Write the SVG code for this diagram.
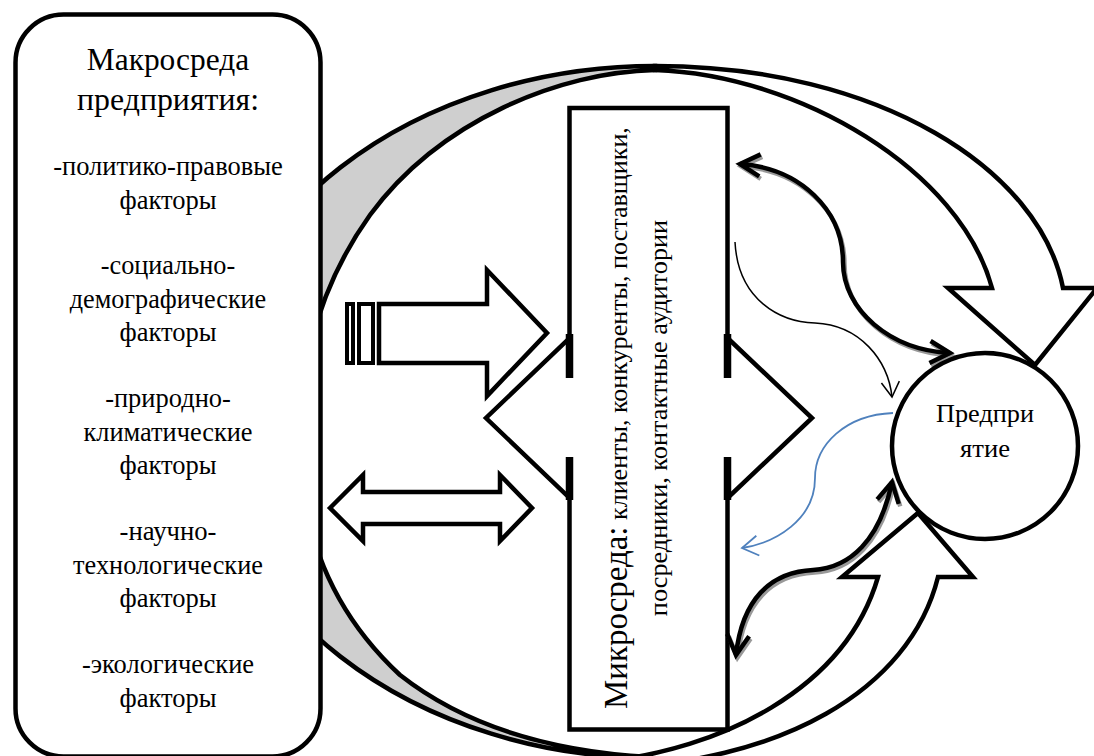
<svg xmlns="http://www.w3.org/2000/svg" width="1094" height="756" viewBox="0 0 1094 756">
<style>
.ln{stroke:#000;stroke-width:4.5;fill:#fff;stroke-linejoin:miter}
text{font-family:"Liberation Serif","Times New Roman","DejaVu Serif",serif;fill:#000}
.t1{font-size:31.5px;text-anchor:middle}
.t2{font-size:26.3px;text-anchor:middle}
.thick{fill:none;stroke:#000;stroke-width:4.5}
.shadow{fill:none;stroke:#999;stroke-width:4.5}
.thin{fill:none;stroke:#000;stroke-width:1.5}
.blue{fill:none;stroke:#4f81bd;stroke-width:1.8}
</style>
<defs>
<marker id="ahK" markerUnits="userSpaceOnUse" viewBox="-24 -14 28 28" refX="0" refY="0" markerWidth="28" markerHeight="28" orient="auto-start-reverse" overflow="visible"><path d="M-20,-11 L0,0 L-20,11" fill="none" stroke="#000" stroke-width="4.5"/></marker>
<marker id="ahS" markerUnits="userSpaceOnUse" viewBox="-24 -14 28 28" refX="0" refY="0" markerWidth="28" markerHeight="28" orient="auto-start-reverse" overflow="visible"><path d="M-20,-11 L0,0 L-20,11" fill="none" stroke="#999" stroke-width="4.5"/></marker>
<marker id="ahT" markerUnits="userSpaceOnUse" viewBox="-18 -12 20 24" refX="0" refY="0" markerWidth="20" markerHeight="24" orient="auto" overflow="visible"><path d="M-15,-9 L0,0 L-15,9" fill="none" stroke="#000" stroke-width="1.5"/></marker>
<marker id="ahB" markerUnits="userSpaceOnUse" viewBox="-18 -12 20 24" refX="0" refY="0" markerWidth="20" markerHeight="24" orient="auto" overflow="visible"><path d="M-16,-10 L0,0 L-16,10" fill="none" stroke="#4f81bd" stroke-width="1.8"/></marker>
</defs>

<g id="environment-arrows">
<path id="left-crescent" d="M655,66 A445,346 0 0 0 655,758 L650,757 C560,752 470,730 400,675 C330,610 300,530 300,440 C300,360 320,285 370,215 C440,120 560,72 655,70 Z" fill="#cfcfcf" stroke="#000" stroke-width="4.5"/>
<path id="top-right-arrow" class="ln" d="M655,66 C880,66 1040,170 1063,288 L1097,288 L1035,365 L948,288 L992,288 C960,170 800,75 655,70 Z"/>
<path id="bottom-right-arrow" class="ln" d="M600,762 C720,750 845,690 878,577 L842,577 L918,513 L973,577 L938,577 C910,690 780,765 600,768 Z"/>
</g>

<g id="macro">
<rect x="15.5" y="14.5" width="305" height="742" rx="48" ry="48" class="ln" stroke-width="5"/>
<text class="t1" x="168" y="70" textLength="162.5" lengthAdjust="spacingAndGlyphs">Макросреда</text>
<text class="t1" x="168" y="110" textLength="182" lengthAdjust="spacingAndGlyphs">предприятия:</text>
<text class="t2" x="168" y="175" textLength="229.7" lengthAdjust="spacingAndGlyphs">-политико-правовые</text>
<text class="t2" x="168" y="208.5" textLength="97" lengthAdjust="spacingAndGlyphs">факторы</text>
<text class="t2" x="168" y="274" textLength="134.5" lengthAdjust="spacingAndGlyphs">-социально-</text>
<text class="t2" x="168" y="307.5" textLength="196.5" lengthAdjust="spacingAndGlyphs">демографические</text>
<text class="t2" x="168" y="341" textLength="97" lengthAdjust="spacingAndGlyphs">факторы</text>
<text class="t2" x="168" y="407" textLength="125.7" lengthAdjust="spacingAndGlyphs">-природно-</text>
<text class="t2" x="168" y="440.5" textLength="169" lengthAdjust="spacingAndGlyphs">климатические</text>
<text class="t2" x="168" y="474" textLength="97" lengthAdjust="spacingAndGlyphs">факторы</text>
<text class="t2" x="168" y="540" textLength="96.9" lengthAdjust="spacingAndGlyphs">-научно-</text>
<text class="t2" x="168" y="573.5" textLength="189.8" lengthAdjust="spacingAndGlyphs">технологические</text>
<text class="t2" x="168" y="607" textLength="97" lengthAdjust="spacingAndGlyphs">факторы</text>
<text class="t2" x="168" y="673" textLength="172.2" lengthAdjust="spacingAndGlyphs">-экологические</text>
<text class="t2" x="168" y="706.5" textLength="97" lengthAdjust="spacingAndGlyphs">факторы</text>
</g>

<g id="striped-arrow">
<rect x="347" y="304" width="6" height="59" fill="#fff" stroke="#000" stroke-width="4"/>
<rect x="359" y="304" width="14" height="59" fill="#fff" stroke="#000" stroke-width="4"/>
<path class="ln" d="M379,304 L487,304 L487,270 L547,333 L487,396 L487,363 L379,363 Z"/>
</g>

<g id="double-arrow">
<path class="ln" d="M330,508 L363,475 L363,492 L500,492 L500,475 L532,508 L500,541 L500,524 L363,524 L363,541 Z"/>
</g>

<g id="micro">
<path class="ln" d="M569.5,108 H727.5 V338 L812,418 L727.5,498 V729.5 H569.5 V498 L486,418 L569.5,338 Z"/>
<path d="M569.5,334 V378 M569.5,457 V500 M727.5,334 V378 M727.5,457 V500" stroke="#000" stroke-width="7.5" fill="none"/>
<g transform="translate(627,418) rotate(-90)">
<text x="-291" y="0" font-size="33" textLength="182.5" lengthAdjust="spacingAndGlyphs">Микросреда:</text>
<text x="-108.5" y="0" font-size="26" textLength="399.4" lengthAdjust="spacingAndGlyphs" xml:space="preserve"> клиенты, конкуренты, поставщики,</text>
</g>
<g transform="translate(667,418) rotate(-90)">
<text x="0" y="0" font-size="26" text-anchor="middle" textLength="396.3" lengthAdjust="spacingAndGlyphs">посредники, контактные аудитории</text>
</g>
</g>

<g id="connectors">
<g transform="translate(1.5,2.5)">
<path class="shadow" d="M740,164 C800,168 843,210 843,262 C843,310 890,350 950,353" marker-start="url(#ahS)" marker-end="url(#ahS)"/>
<path class="shadow" d="M892,482 C880,540 850,568 813,570 C770,572 742,600 736,655" marker-start="url(#ahS)" marker-end="url(#ahS)"/>
</g>
<path class="thick" d="M740,164 C800,168 843,210 843,262 C843,310 890,350 950,353" marker-start="url(#ahK)" marker-end="url(#ahK)"/>
<path class="thick" d="M892,482 C880,540 850,568 813,570 C770,572 742,600 736,655" marker-start="url(#ahK)" marker-end="url(#ahK)"/>
<path class="thin" d="M735,242 C738,300 780,322 815,323 C860,325 888,360 892,397" marker-end="url(#ahT)"/>
<path class="blue" d="M893,413 C845,415 815,445 815,478 C815,520 775,543 742,548" marker-end="url(#ahB)"/>
</g>

<g id="enterprise">
<circle cx="985" cy="446" r="93" class="ln"/>
<text x="985" y="422" font-size="26.2" text-anchor="middle" textLength="98" lengthAdjust="spacingAndGlyphs">Предпри</text>
<text x="985" y="457" font-size="26.2" text-anchor="middle" textLength="50" lengthAdjust="spacingAndGlyphs">ятие</text>
</g>
</svg>
